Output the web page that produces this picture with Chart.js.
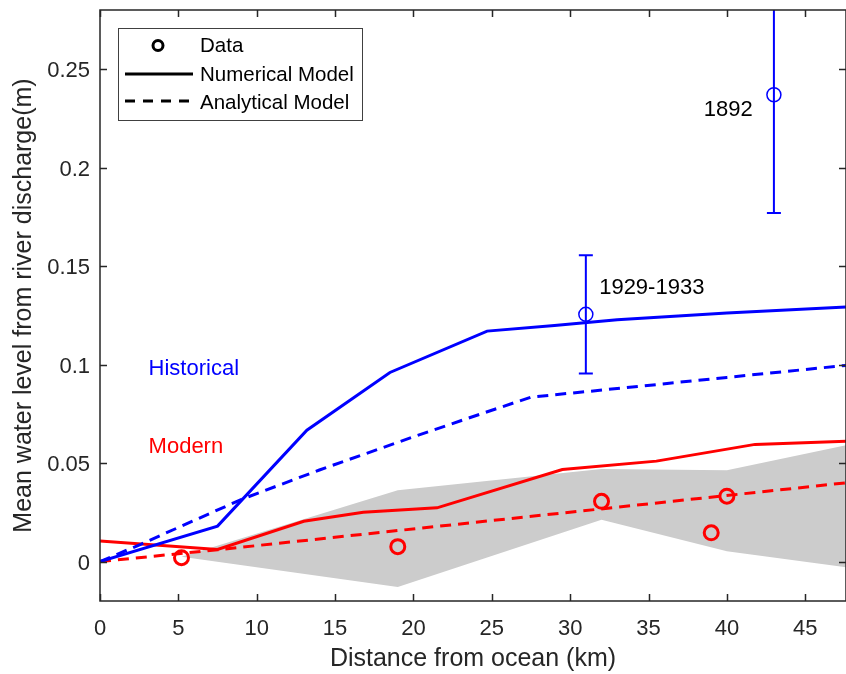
<!DOCTYPE html>
<html>
<head>
<meta charset="utf-8">
<script src="https://cdn.jsdelivr.net/npm/chart.js@4.4.0/dist/chart.umd.min.js"></script>
<style>
  html, body { margin: 0; padding: 0; background: #fff; }
  #wrap { width: 846px; height: 674px; }
</style>
</head>
<body>
<div id="wrap"><canvas id="chart" width="846" height="674"></canvas></div>
<script>
// distance from ocean (km) vs mean water level (m)
const histNumX = [0, 7.5, 13.2, 18.5, 24.7, 29, 33, 40, 47.6];
const histNumY = [0, 0.018, 0.0667, 0.096, 0.117, 0.1198, 0.1228, 0.1262, 0.1292];
const histAnaX = [0, 2.6, 5.9, 9, 14, 19.8, 23.2, 27.5, 33.2, 40, 47.6];
const histAnaY = [0, 0.0088, 0.0205, 0.0315, 0.0465, 0.0628, 0.072, 0.0835, 0.088, 0.0935, 0.0996];
const modNumX = [0, 7.5, 13, 16.8, 21.5, 29.5, 35.5, 41.8, 47.6];
const modNumY = [0.0105, 0.0062, 0.0205, 0.025, 0.0273, 0.0467, 0.051, 0.0595, 0.0611];
const modAnaX = [0, 7.5, 47.6];
const modAnaY = [0, 0.006, 0.040];
const modDataX = [5.2, 19, 32, 39, 40];
const modDataY = [0.002, 0.0076, 0.0306, 0.0146, 0.0332];
const bandX = [5.2, 19, 32, 40, 47.6];
const bandHigh = [0.0025, 0.0362, 0.047, 0.0464, 0.059];
const bandLow = [0.0025, -0.0129, 0.0213, 0.0052, -0.0029];
const histDataX = [31, 43];
const histDataY = [0.1255, 0.237];
const histDataErr = [0.030, 0.060];

const xTicks = [0, 5, 10, 15, 20, 25, 30, 35, 40, 45];
const yTicks = [0, 0.05, 0.1, 0.15, 0.2, 0.25];
const yTickLabels = ['0', '0.05', '0.1', '0.15', '0.2', '0.25'];

const notes = [
  { text: 'Historical', x: 3.1, y: 0.0978, color: '#0000ff', align: 'left' },
  { text: 'Modern', x: 3.1, y: 0.0581, color: '#ff0000', align: 'left' },
  { text: '1929-1933', x: 31.85, y: 0.1389, color: '#000000', align: 'left' },
  { text: '1892', x: 41.65, y: 0.2292, color: '#000000', align: 'right' }
];

const FONT = '"Liberation Sans", Arial, Helvetica, sans-serif';
const AXIS = '#262626';

const pts = (xs, ys) => xs.map((x, i) => ({ x: x, y: ys[i] }));

const lineDs = (xs, ys, color, dashed) => ({
  data: pts(xs, ys),
  borderColor: color,
  borderWidth: 3,
  borderDash: dashed ? [11, 7] : [],
  pointRadius: 0,
  fill: false,
  tension: 0,
  order: 2
});

// frame, inward ticks, error bars, notes and legend
const extras = {
  id: 'extras',
  afterDatasetsDraw(chart) {
    const { ctx, chartArea: a, scales: { x, y } } = chart;
    ctx.save();
    ctx.beginPath();
    ctx.rect(a.left, a.top, a.right - a.left, a.bottom - a.top);
    ctx.clip();
    ctx.strokeStyle = '#0000ff';
    ctx.lineWidth = 2;
    histDataX.forEach((v, i) => {
      const px = x.getPixelForValue(v);
      const lo = y.getPixelForValue(histDataY[i] - histDataErr[i]);
      const hi = y.getPixelForValue(histDataY[i] + histDataErr[i]);
      ctx.beginPath();
      ctx.moveTo(px, lo); ctx.lineTo(px, hi);
      ctx.moveTo(px - 7, lo); ctx.lineTo(px + 7, lo);
      ctx.moveTo(px - 7, hi); ctx.lineTo(px + 7, hi);
      ctx.stroke();
    });
    ctx.restore();
  },
  afterDraw(chart) {
    const { ctx, chartArea: a, scales: { x, y } } = chart;
    ctx.save();
    // box
    ctx.strokeStyle = AXIS;
    ctx.lineWidth = 1.5;
    ctx.strokeRect(a.left, a.top, a.right - a.left, a.bottom - a.top);
    ctx.beginPath();
    xTicks.forEach(v => {
      const px = Math.round(x.getPixelForValue(v)) + 0.5;
      ctx.moveTo(px, a.bottom); ctx.lineTo(px, a.bottom - 7);
      ctx.moveTo(px, a.top); ctx.lineTo(px, a.top + 7);
    });
    yTicks.forEach(v => {
      const py = Math.round(y.getPixelForValue(v)) + 0.5;
      ctx.moveTo(a.left, py); ctx.lineTo(a.left + 7, py);
      ctx.moveTo(a.right, py); ctx.lineTo(a.right - 7, py);
    });
    ctx.stroke();

    // text notes
    ctx.font = '22px ' + FONT;
    ctx.textBaseline = 'middle';
    notes.forEach(n => {
      ctx.fillStyle = n.color;
      ctx.textAlign = n.align;
      ctx.fillText(n.text, x.getPixelForValue(n.x), y.getPixelForValue(n.y));
    });

    // legend
    const L = 118.5, T = 28.5, W = 244, H = 92;
    ctx.fillStyle = '#ffffff';
    ctx.fillRect(L, T, W, H);
    ctx.strokeStyle = '#404040';
    ctx.lineWidth = 1;
    ctx.strokeRect(L, T, W, H);
    ctx.strokeStyle = '#000000';
    ctx.lineWidth = 3;
    ctx.beginPath();
    ctx.arc(158, 45.5, 5, 0, Math.PI * 2);
    ctx.stroke();
    ctx.beginPath();
    ctx.moveTo(125, 74); ctx.lineTo(193, 74);
    ctx.stroke();
    ctx.setLineDash([10, 8]);
    ctx.beginPath();
    ctx.moveTo(125, 101); ctx.lineTo(193, 101);
    ctx.stroke();
    ctx.setLineDash([]);
    ctx.fillStyle = '#000000';
    ctx.font = '20.5px ' + FONT;
    ctx.textAlign = 'left';
    ctx.textBaseline = 'middle';
    ctx.fillText('Data', 200, 46);
    ctx.fillText('Numerical Model', 200, 75);
    ctx.fillText('Analytical Model', 200, 103);
    ctx.restore();
  }
};

new Chart(document.getElementById('chart'), {
  type: 'line',
  data: {
    datasets: [
      // gray spread of the modern observations
      { data: pts(bandX, bandHigh), borderWidth: 0, pointRadius: 0, backgroundColor: '#cccccc', fill: '+1', order: 10 },
      { data: pts(bandX, bandLow), borderWidth: 0, pointRadius: 0, fill: false, order: 11 },
      lineDs(histNumX, histNumY, '#0000ff', false),
      lineDs(histAnaX, histAnaY, '#0000ff', true),
      lineDs(modNumX, modNumY, '#ff0000', false),
      lineDs(modAnaX, modAnaY, '#ff0000', true),
      {
        data: pts(modDataX, modDataY), showLine: false, pointRadius: 7, pointBorderWidth: 3,
        pointBorderColor: '#ff0000', pointBackgroundColor: 'rgba(0,0,0,0)', borderColor: '#ff0000', order: 1
      },
      {
        data: pts(histDataX, histDataY), showLine: false, pointRadius: 7, pointBorderWidth: 1.5,
        pointBorderColor: '#0000ff', pointBackgroundColor: 'rgba(0,0,0,0)', borderColor: '#0000ff', order: 1
      }
    ]
  },
  options: {
    responsive: false,
    animation: false,
    devicePixelRatio: 1,
    layout: { autoPadding: false, padding: { top: 10, right: 0, left: 0, bottom: 0 } },
    plugins: { legend: { display: false }, tooltip: { enabled: false } },
    scales: {
      x: {
        type: 'linear', min: 0, max: 47.6,
        grid: { display: false, drawTicks: false },
        border: { display: false },
        afterBuildTicks: s => { s.ticks = xTicks.map(v => ({ value: v })); },
        afterFit: s => { s.height = 73; s.paddingLeft = 0; s.paddingRight = 0; },
        ticks: { color: AXIS, font: { size: 22, family: FONT }, padding: 15, maxRotation: 0 },
        title: { display: true, text: 'Distance from ocean (km)', color: AXIS, font: { size: 25, family: FONT }, padding: { top: 0, bottom: 0 } }
      },
      y: {
        type: 'linear', min: -0.02, max: 0.28,
        grid: { display: false, drawTicks: false },
        border: { display: false },
        afterBuildTicks: s => { s.ticks = yTicks.map(v => ({ value: v })); },
        afterFit: s => { s.width = 100; s.paddingTop = 0; s.paddingBottom = 0; },
        ticks: {
          color: AXIS, font: { size: 22, family: FONT }, padding: 10, labelOffset: 2,
          callback: (v, i) => yTickLabels[i]
        },
        title: { display: true, text: 'Mean water level from river discharge(m)', color: AXIS, font: { size: 25, family: FONT }, padding: { top: 9, bottom: 0 } }
      }
    }
  },
  plugins: [extras]
});
</script>
</body>
</html>
